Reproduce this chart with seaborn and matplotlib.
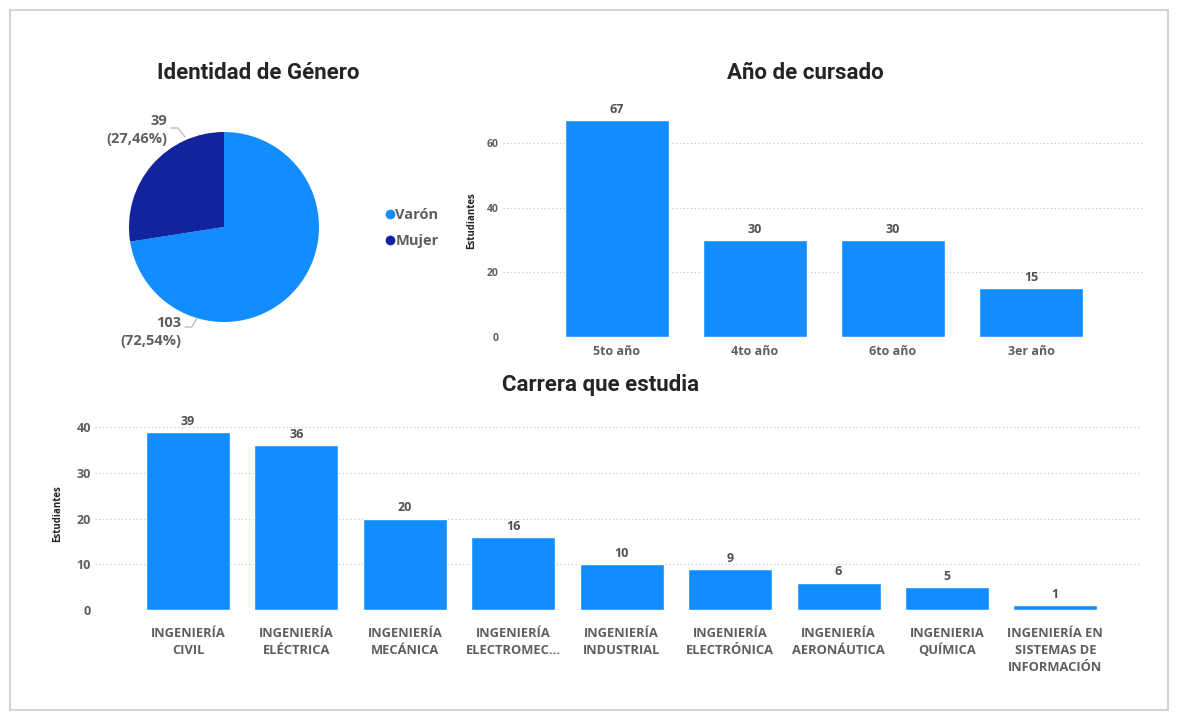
import matplotlib
matplotlib.use("Agg")
import matplotlib.pyplot as plt
from matplotlib.lines import Line2D
from matplotlib.patches import Rectangle
import seaborn as sns
import pandas as pd

# ---------------- data ----------------
genero_labels = ["Varón", "Mujer"]
genero_values = [103, 39]

anio_labels = ["5to año", "4to año", "6to año", "3er año"]
anio_values = [67, 30, 30, 15]

carrera_labels = [
    "INGENIERÍA\nCIVIL",
    "INGENIERÍA\nELÉCTRICA",
    "INGENIERÍA\nMECÁNICA",
    "INGENIERÍA\nELECTROMEC...",
    "INGENIERÍA\nINDUSTRIAL",
    "INGENIERÍA\nELECTRÓNICA",
    "INGENIERÍA\nAERONÁUTICA",
    "INGENIERIA\nQUÍMICA",
    "INGENIERÍA EN\nSISTEMAS DE\nINFORMACIÓN",
]
carrera_values = [39, 36, 20, 16, 10, 9, 6, 5, 1]

anio_ticks = [0, 20, 40, 60]
carrera_ticks = [0, 10, 20, 30, 40]

# ---------------- style ----------------
sns.set_theme(style="white")
plt.rcParams["font.family"] = ["Open Sans", "DejaVu Sans"]

BLUE = "#118DFF"
DARK = "#12239E"
GRAY = "#605E5C"
VAL_C = "#505050"
TITLE_C = "#252423"
GRID_C = "#c9c9c9"
TITLE_FONT = ["Roboto", "DejaVu Sans"]
LW = "bold"

W, H = 1180, 720
fig = plt.figure(figsize=(W / 100, H / 100), dpi=100)
fig.patch.set_facecolor("white")


def rect(l, t, r, b):
    return [l / W, (H - b) / H, (r - l) / W, (b - t) / H]


# frame around the canvas
fig.patches.append(Rectangle((10 / W, 10 / H), 1158 / W, 700 / H, transform=fig.transFigure,
                             fill=False, edgecolor="#d4d4d4", linewidth=1.5))

# ---------------- pie ----------------
cx, cy, R = 224, 227, 95
axp = fig.add_axes(rect(cx - R, cy - R, cx + R, cy + R))
axp.pie(genero_values, colors=[BLUE, DARK], startangle=90, counterclock=False,
        wedgeprops=dict(linewidth=0))
axp.set_xlim(-1, 1)
axp.set_ylim(-1, 1)
axp.set_aspect("equal")

total = sum(genero_values)
pie_txt = [f"{v}\n({v / total * 100:.2f}%)".replace(".", ",") for v in genero_values]
# Varón label (bottom-left), Mujer label (top-left)
fig.text(181 / W, 1 - 332 / H, pie_txt[0], ha="right", va="center", multialignment="right",
         fontsize=10.5, color=GRAY, fontweight=LW, linespacing=1.3)
fig.text(167 / W, 1 - 130 / H, pie_txt[1], ha="right", va="center", multialignment="right",
         fontsize=10.5, color=GRAY, fontweight=LW, linespacing=1.3)


def px2d(x, y):
    return (x - cx) / R, (cy - y) / R


for pts in ([(171, 128), (178, 128), (185, 137)], [(185, 327), (192, 327), (197, 318)]):
    xs, ys = zip(*[px2d(*p) for p in pts])
    axp.plot(xs, ys, color="#b8b8b8", lw=0.9, clip_on=False)

handles = [Line2D([0], [0], marker="o", linestyle="", markersize=6, markerfacecolor=c,
                  markeredgecolor=c) for c in [BLUE, DARK]]
leg = fig.legend(handles, genero_labels, loc="center left",
                 bbox_to_anchor=(372 / W, 1 - 228 / H), frameon=False,
                 handlelength=0.6, handletextpad=0.1, labelspacing=0.8,
                 prop=dict(size=10.5, weight=LW))
for t in leg.get_texts():
    t.set_color(GRAY)

fig.text(258 / W, 1 - 73 / H, "Identidad de Género", ha="center", va="center",
         fontsize=16, fontweight="bold", color=TITLE_C, family=TITLE_FONT)


# ---------------- bar helper ----------------
def style_bar(ax, ticks, ytick_size, xtick_size, xpad, ylabel_xy):
    ax.set_yticks(ticks)
    ax.grid(False)
    for t in ticks:
        ax.axhline(t, color=GRID_C, lw=0.9, ls=(0, (1, 2)), zorder=0)
    for s in ax.spines.values():
        s.set_visible(False)
    ax.tick_params(axis="y", length=0, pad=3, labelsize=ytick_size, labelcolor=GRAY)
    ax.tick_params(axis="x", length=0, pad=xpad, labelsize=xtick_size, labelcolor=GRAY)
    for lab in ax.get_xticklabels() + ax.get_yticklabels():
        lab.set_fontweight(LW)
    ax.set_xlabel("")
    ax.set_ylabel("Estudiantes", fontsize=7, fontweight="bold", color=TITLE_C)
    ax.yaxis.set_label_coords(*ylabel_xy)
    ax.set_facecolor("none")


# ---------------- Año de cursado ----------------
ax1 = fig.add_axes(rect(503, 104, 1145, 337))
sns.barplot(x=anio_labels, y=anio_values, color=BLUE, saturation=1, width=0.755, ax=ax1,
            zorder=2)
ax1.set_ylim(0, 72)
ax1.set_xlim(-0.826, len(anio_labels) - 1 + 0.826)
style_bar(ax1, anio_ticks, 7.5, 9, 6, (-0.04, 0.5))
ax1.bar_label(ax1.containers[0], padding=3, fontsize=9, color=VAL_C, fontweight=LW)
fig.text(805 / W, 1 - 73 / H, "Año de cursado", ha="center", va="center",
         fontsize=16, fontweight="bold", color=TITLE_C, family=TITLE_FONT)

# ---------------- Carrera que estudia ----------------
ax2 = fig.add_axes(rect(95, 418, 1141, 610))
sns.barplot(x=carrera_labels, y=carrera_values, color=BLUE, saturation=1, width=0.775, ax=ax2,
            zorder=2)
ax2.set_ylim(0, 42)
ax2.set_xlim(-0.858, len(carrera_labels) - 1 + 0.79)
style_bar(ax2, carrera_ticks, 9, 9.3, 12, (-0.03, 0.5))
for lab in ax2.get_xticklabels():
    lab.set_linespacing(1.4)
ax2.bar_label(ax2.containers[0], padding=3, fontsize=9, color=VAL_C, fontweight=LW)
fig.text(601 / W, 1 - 385 / H, "Carrera que estudia", ha="center", va="center",
         fontsize=16, fontweight="bold", color=TITLE_C, family=TITLE_FONT)

fig.savefig("out.png", dpi=100, facecolor="white")
